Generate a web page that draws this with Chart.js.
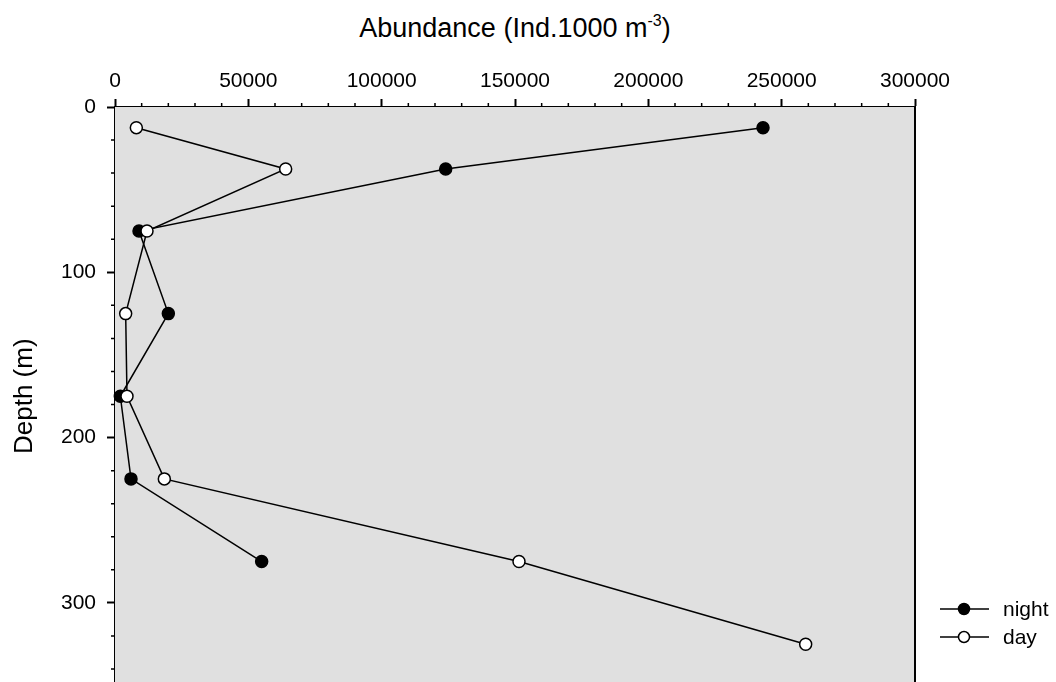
<!DOCTYPE html>
<html>
<head>
<meta charset="utf-8">
<script src="https://cdn.jsdelivr.net/npm/chart.js@4.4.0/dist/chart.umd.min.js"></script>
<style>
  html, body { margin: 0; padding: 0; background: #fff; overflow: hidden; }
  body { width: 1056px; height: 682px; position: relative; font-family: "Liberation Sans", Arial, sans-serif; }
  #chart { position: absolute; left: 0; top: 0; }
  #xTitle {
    position: absolute; left: 115px; width: 800px; top: 15px;
    text-align: center; font-size: 27px; line-height: 27px; color: #000;
  }
  #xTitle .sup { font-size: 16px; position: relative; top: -11px; }
</style>
</head>
<body>
<div id="xTitle">Abundance (Ind.1000 m<span class="sup">-3</span>)</div>
<canvas id="chart" width="1056" height="693"></canvas>
<script>
// depths (m) and abundance (Ind.1000 m-3)
const nightDepth = [12.5, 37.5, 75, 125, 175, 225, 275];
const nightAbund = [243000, 124000, 9000, 20000, 2000, 6000, 55000];
const dayDepth = [12.5, 37.5, 75, 125, 175, 225, 275, 325];
const dayAbund = [8000, 64000, 12000, 4000, 4500, 18500, 151500, 259000];
const xTicks = [0, 50000, 100000, 150000, 200000, 250000, 300000];
const yTicks = [0, 100, 200, 300];

const FONT = "'Liberation Sans', Arial, sans-serif";

const toPoints = (xs, ys) => xs.map((x, i) => ({ x: x, y: ys[i] }));

const frame = {
  id: "frame",
  beforeDatasetsDraw(chart) {
    const { ctx, chartArea: a } = chart;
    ctx.save();
    ctx.fillStyle = "#e0e0e0";
    ctx.fillRect(a.left, a.top, a.right - a.left, a.bottom - a.top);
    ctx.restore();
  },
  afterDraw(chart) {
    const { ctx, chartArea: a, scales } = chart;
    ctx.save();
    ctx.strokeStyle = "#000";
    // right border
    ctx.lineWidth = 2;
    ctx.beginPath();
    ctx.moveTo(a.right, a.top);
    ctx.lineTo(a.right, a.bottom);
    ctx.stroke();
    // minor ticks
    ctx.lineWidth = 1.5;
    ctx.beginPath();
    for (let v = 10000; v < 300000; v += 10000) {
      if (v % 50000 === 0) continue;
      const px = scales.x.getPixelForValue(v);
      ctx.moveTo(px, a.top - 4);
      ctx.lineTo(px, a.top);
    }
    for (let v = 20; v <= 340; v += 20) {
      if (v % 100 === 0) continue;
      const py = scales.y.getPixelForValue(v);
      ctx.moveTo(a.left - 4, py);
      ctx.lineTo(a.left, py);
    }
    ctx.stroke();

    // legend
    const items = [
      { label: "night", fill: "#000", y: 609 },
      { label: "day", fill: "#fff", y: 637 }
    ];
    ctx.font = "21px " + FONT;
    ctx.textBaseline = "middle";
    ctx.textAlign = "left";
    items.forEach(it => {
      ctx.lineWidth = 1.5;
      ctx.beginPath();
      ctx.moveTo(940, it.y);
      ctx.lineTo(989, it.y);
      ctx.stroke();
      ctx.beginPath();
      ctx.arc(964, it.y, 5.5, 0, Math.PI * 2);
      ctx.fillStyle = it.fill;
      ctx.fill();
      ctx.stroke();
      ctx.fillStyle = "#000";
      ctx.fillText(it.label, 1003, it.y + 1);
    });
    ctx.restore();
  }
};

const seriesStyle = (fill) => ({
  showLine: true,
  borderColor: "#000",
  borderWidth: 1.5,
  pointRadius: 6,
  pointHoverRadius: 6,
  pointBackgroundColor: fill,
  pointBorderColor: "#000",
  pointBorderWidth: 1.5,
  tension: 0,
  clip: false
});

new Chart(document.getElementById("chart"), {
  type: "scatter",
  data: {
    datasets: [
      Object.assign({ label: "night", data: toPoints(nightAbund, nightDepth), order: 1 }, seriesStyle("#000")),
      Object.assign({ label: "day", data: toPoints(dayAbund, dayDepth), order: 0 }, seriesStyle("#fff"))
    ]
  },
  options: {
    responsive: false,
    animation: false,
    devicePixelRatio: 1,
    layout: { padding: { top: 0, left: 0, right: 141, bottom: 0 } },
    plugins: { legend: { display: false }, tooltip: { enabled: false } },
    scales: {
      x: {
        type: "linear",
        position: "top",
        min: 0,
        max: 300000,
        afterFit: s => { s.height = 107; s.paddingLeft = 0; s.paddingRight = 0; },
        afterBuildTicks: s => { s.ticks = xTicks.map(v => ({ value: v })); },
        ticks: { color: "#000", font: { family: FONT, size: 21 }, padding: 5, maxRotation: 0, autoSkip: false,
                 callback: v => String(v) },
        grid: { drawOnChartArea: false, drawTicks: true, tickLength: 8, tickColor: "#000", tickWidth: 2 },
        border: { display: true, color: "#000", width: 2 }
      },
      y: {
        type: "linear",
        position: "left",
        reverse: true,
        min: 0,
        max: 350,
        afterFit: s => { s.width = 115; s.paddingTop = 0; s.paddingBottom = 0; },
        afterBuildTicks: s => { s.ticks = yTicks.map(v => ({ value: v })); },
        ticks: { color: "#000", font: { family: FONT, size: 21 }, padding: 11, autoSkip: false },
        grid: { drawOnChartArea: false, drawTicks: true, tickLength: 8, tickColor: "#000", tickWidth: 2 },
        border: { display: true, color: "#000", width: 2 },
        title: { display: true, text: "Depth (m)", color: "#000", font: { family: FONT, size: 26 }, padding: { top: 9, bottom: 0 } }
      }
    }
  },
  plugins: [frame]
});
</script>
</body>
</html>
